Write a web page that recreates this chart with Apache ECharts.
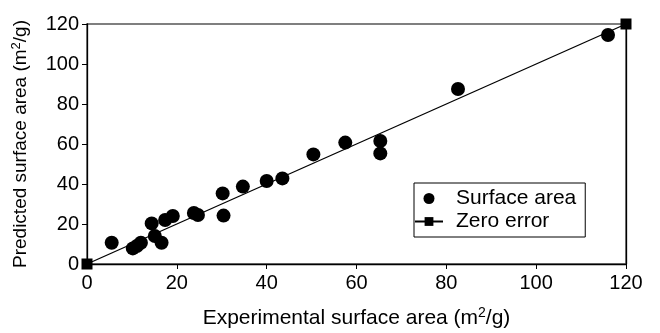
<!DOCTYPE html>
<html>
<head>
<meta charset="utf-8">
<script src="https://cdn.jsdelivr.net/npm/echarts@6/dist/echarts.min.js"></script>
<style>html,body{margin:0;padding:0;background:#fff}#c{width:660px;height:333px}</style>
</head>
<body>
<div id="c"></div>
<script>
const expArea = [5.5, 10.2, 11.1, 12, 14.4, 15.1, 16.6, 17.4, 19.1, 23.8, 24.7, 30.2, 30.4, 34.7, 40, 43.5, 50.4, 57.5, 65.3, 65.3, 82.6, 116];
const predArea = [10.6, 7.8, 9, 10.6, 20.3, 14, 10.6, 22, 24, 25.5, 24.5, 35.3, 24.2, 38.7, 41.5, 42.8, 54.8, 60.7, 61.5, 55.3, 87.5, 114.5];
const zeroX = [0, 120];
const zeroY = [0, 120];
const seriesNames = ['Surface area', 'Zero error'];
const axisMin = 0, axisMax = 120, axisStep = 20;

const font = '"Liberation Sans", Arial, sans-serif';
const chart = echarts.init(document.getElementById('c'), null, {renderer: 'canvas'});
const supX = {fontSize: 14, fontFamily: font, color: '#000', verticalAlign: 'top', lineHeight: 18};
const supY = {fontSize: 13, fontFamily: font, color: '#000', verticalAlign: 'top', lineHeight: 17};
chart.setOption({
  animation: false,
  backgroundColor: '#fff',
  grid: {left: 87, right: 34, top: 24, bottom: 69, show: true, borderColor: '#555', borderWidth: 1.5,
         containLabel: false, outerBoundsMode: 'none'},
  legend: {
    orient: 'vertical', left: 414, top: 183,
    borderColor: '#000', borderWidth: 1, padding: [5, 9, 5, 0],
    itemWidth: 28, itemHeight: 11, itemGap: 2,
    textStyle: {fontSize: 21, fontFamily: font, color: '#000', padding: [0, 0, 0, 8], lineHeight: 21},
    data: seriesNames
  },
  xAxis: {
    type: 'value', min: axisMin, max: axisMax, interval: axisStep,
    name: 'Experimental surface area (m{s|2}/g)', nameLocation: 'middle', nameGap: 42,
    nameTextStyle: {rich: {s: supX}, fontSize: 21, fontFamily: font, color: '#000', lineHeight: 24},
    axisLine: {lineStyle: {color: '#000', width: 1.3}},
    axisTick: {inside: false, length: 5, lineStyle: {color: '#000'}},
    axisLabel: {fontSize: 20, fontFamily: font, color: '#000', margin: 9},
    splitLine: {show: false}
  },
  yAxis: [{
    type: 'value', min: axisMin, max: axisMax, interval: axisStep,
    name: 'Predicted surface area (m{s|2}/g)', nameLocation: 'middle', nameGap: 55, nameRotate: 90,
    nameTextStyle: {rich: {s: supY}, fontSize: 19, fontFamily: font, color: '#000', lineHeight: 22},
    axisLine: {show: true, lineStyle: {color: '#000', width: 1.3}},
    axisTick: {show: true, length: 5, lineStyle: {color: '#000'}},
    axisLabel: {fontSize: 20, fontFamily: font, color: '#000', margin: 8},
    splitLine: {show: false}
  }, {
    type: 'value', min: axisMin, max: axisMax, interval: axisStep, position: 'right',
    axisLine: {show: true, lineStyle: {color: '#000', width: 1.3}},
    axisTick: {show: false}, axisLabel: {show: false}, splitLine: {show: false}
  }],
  series: [{
    name: seriesNames[0], type: 'scatter', symbol: 'circle', symbolSize: 14,
    itemStyle: {color: '#000', opacity: 1},
    data: expArea.map((x, i) => [x, predArea[i]]), z: 3
  }, {
    name: seriesNames[1], type: 'line', symbol: 'rect', symbolSize: 11, showSymbol: true,
    lineStyle: {color: '#000', width: 1.3}, itemStyle: {color: '#000'},
    data: zeroX.map((x, i) => [x, zeroY[i]]), z: 4, clip: false
  }]
});
</script>
</body>
</html>
